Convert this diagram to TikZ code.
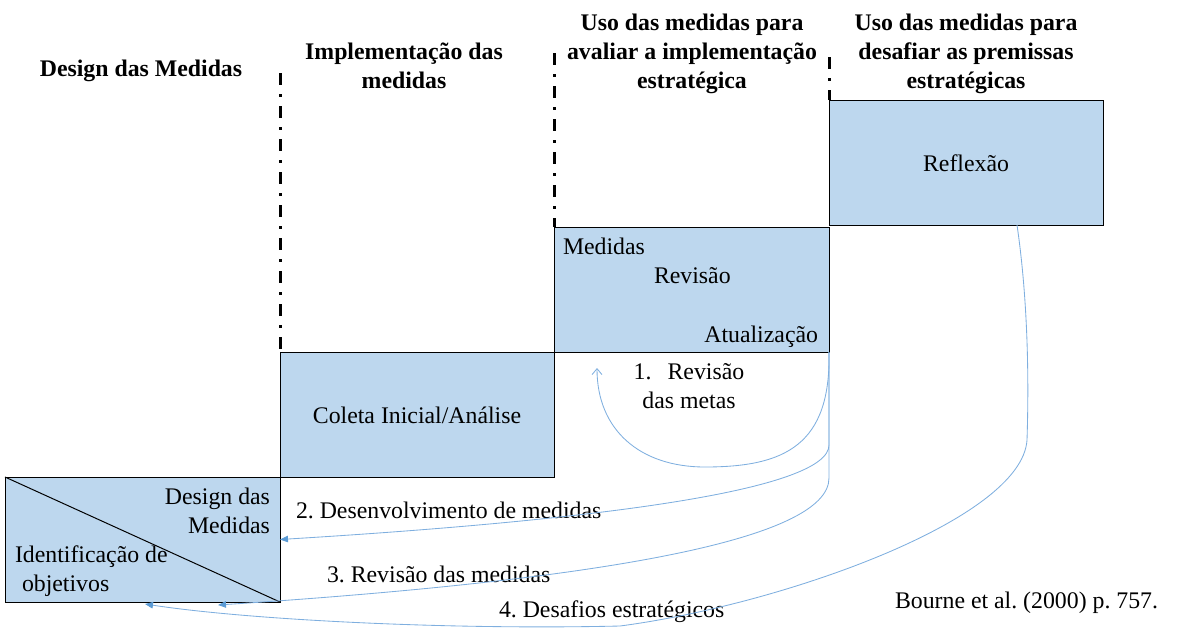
\documentclass[tikz,border=0pt]{standalone}
\usepackage{fontspec}
\setmainfont{Liberation Serif}
\usetikzlibrary{arrows.meta}
\definecolor{boxfill}{HTML}{BDD7EE}
\definecolor{linkblue}{HTML}{5B9BD5}
\definecolor{linklight}{HTML}{7FAFDF}
\begin{document}
\frenchspacing
\begin{tikzpicture}[x=1pt,y=-1pt,
  every node/.style={inner sep=0pt, outer sep=0pt},
  txt/.style={font=\fontsize{23.8}{28.5}\selectfont},
  hdr/.style={font=\fontsize{23.8}{29}\selectfont\bfseries, align=center, anchor=base},
  phasebox/.style={draw=black, fill=boxfill, line width=1pt, minimum width=275pt,
    minimum height=125pt, anchor=north west, text height=17pt, text depth=0pt,
    font=\fontsize{23.8}{28.5}\selectfont},
  sepline/.style={line width=3pt, dash pattern=on 12pt off 9pt on 3pt off 9pt},
  link/.style={draw=linklight, line width=0.85pt},
  solidtip/.style={-{Triangle[length=8pt,width=6.5pt,color=linkblue]}},
  opentip/.style={-{Straight Barb[length=6pt,width=10pt]}}
]
\useasboundingbox (0,0) rectangle (1186,640);

% boxes
\node[phasebox] (ident) at (5,477) {};
\node[phasebox, minimum width=274pt] (coleta) at (280,352) {Coleta Inicial/Análise};
\node[phasebox] (medidas) at (554,227) {};
\node[phasebox, minimum width=274pt] (reflexao) at (829,100) {Reflexão};
\draw[line width=1pt] (ident.north west) -- (ident.south east);

% separators
\coordinate (s1) at (280,73);
\coordinate (s2) at (554,53);
\coordinate (s3) at (829,57);
\draw[sepline] (s1) -- (coleta.north west);
\draw[sepline] (s2) -- (medidas.north west);
\draw[sepline] (s3) -- (reflexao.north west);

% headers (base anchor = last line baseline)
\node[hdr] (h1) at (141,76) {Design das Medidas};
\node[hdr] (h2) at (404,88) {Implementação das\\medidas};
\node[hdr] (h3) at (692,88) {Uso das medidas para\\avaliar a implementação\\estratégica};
\node[hdr] (h4) at (966,88) {Uso das medidas para\\desafiar as premissas\\estratégicas};

% texts inside boxes
\node[txt, align=right, anchor=base east] (tdesign) at (270,533) {Design das\\Medidas};
\node[txt, align=left, anchor=base west] (tident) at (15,591) {Identificação de\\\hspace*{7pt}objetivos};
\node[txt, anchor=base west] (tmed) at (563,254) {Medidas};
\node[txt, anchor=base west] (trev) at (654,283) {Revisão};
\node[txt, anchor=base east] (tatu) at (818,342) {Atualização};

% arrow labels
\node[txt, align=center, anchor=base] (l1) at (689,408) {1.\hspace{16pt}Revisão\\das metas};
\node[txt, anchor=base west] (l2) at (296,518) {2. Desenvolvimento de medidas};
\node[txt, anchor=base west] (l3) at (327,582) {3. Revisão das medidas};
\node[txt, anchor=base west] (l4) at (499,617) {4. Desafios estratégicos};
\node[txt, anchor=base west] (src) at (895,608) {Bourne et al. (2000) p. 757.};

% connectors
\coordinate (t1) at (597,368);
\coordinate (t3) at (218,605);
\coordinate (t4) at (145,604);
\draw[link, opentip] (medidas.south east)
  .. controls (831,445) and (785,467) .. (705,467)
  .. controls (640,467) and (597,430) .. (t1);
\draw[link, solidtip] (medidas.south east) -- (829,445)
  .. controls (829,490) and (600,520) .. (ident.east);
\draw[link, solidtip] (medidas.south east) -- (829,478)
  .. controls (829,540) and (600,580) .. (t3);
\draw[link, solidtip] ([xshift=51pt]reflexao.south)
  .. controls (1028,300) and (1029,380) .. (1027,440)
  .. controls (1022,520) and (780,605) .. (620,626)
  .. controls (450,630) and (250,620) .. (t4);
\end{tikzpicture}
\end{document}
